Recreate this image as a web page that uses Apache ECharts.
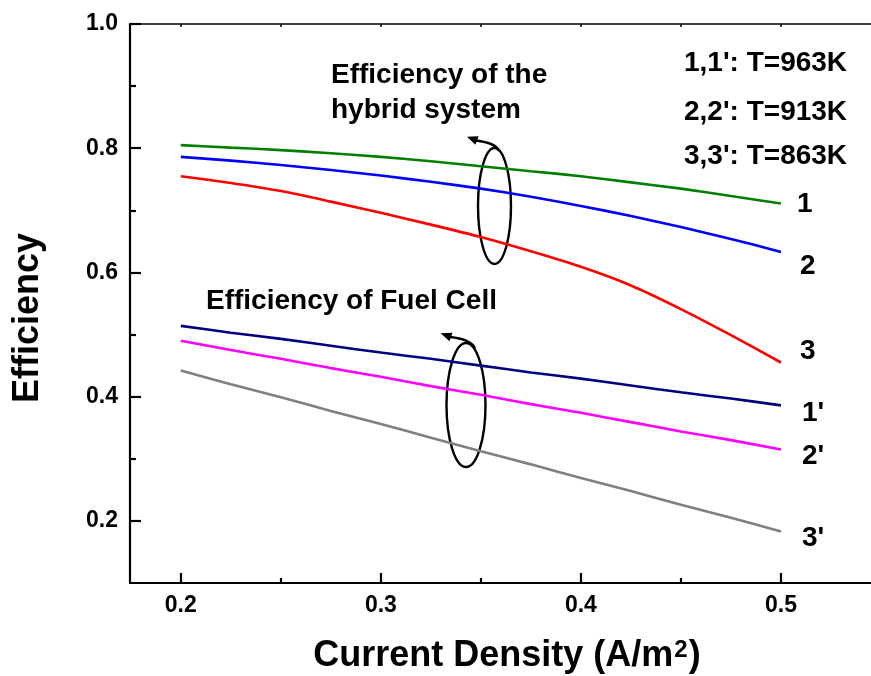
<!DOCTYPE html>
<html><head><meta charset="utf-8">
<script src="https://cdn.jsdelivr.net/npm/echarts@6/dist/echarts.min.js"></script>
<style>html,body{margin:0;padding:0;background:#fff}#c{width:871px;height:676px}</style>
</head><body><div id="c"></div>
<script>
// ---- data ----
const currentDensity = [0.200,0.225,0.250,0.275,0.300,0.325,0.350,0.375,0.400,0.425,0.450,0.475,0.500];
const hybrid963 = [0.805,0.801,0.797,0.792,0.786,0.779,0.771,0.763,0.755,0.745,0.735,0.723,0.711];
const hybrid913 = [0.786,0.780,0.773,0.765,0.756,0.746,0.735,0.722,0.707,0.691,0.673,0.654,0.633];
const hybrid863 = [0.755,0.744,0.731,0.714,0.696,0.677,0.657,0.634,0.609,0.579,0.541,0.499,0.455];
const fuel963   = [0.514,0.503,0.493,0.482,0.471,0.461,0.450,0.439,0.429,0.418,0.407,0.397,0.386];
const fuel913   = [0.490,0.475,0.461,0.446,0.432,0.417,0.403,0.388,0.374,0.359,0.344,0.330,0.315];
const fuel863   = [0.442,0.420,0.399,0.377,0.356,0.334,0.312,0.291,0.269,0.248,0.226,0.205,0.183];
const xTickValues = [0.2,0.3,0.4,0.5];
const xMinorValues = [0.25,0.35,0.45];
const xTopValues = [0.2,0.25,0.3,0.35,0.4,0.45,0.5];
const yTickValues = [0.2,0.4,0.6,0.8,1.0];
const yMinorValues = [0.3,0.5,0.7,0.9];
const curveLabels = ['1','2','3',"1'","2'","3'"];
const legendLines = ["1,1': T=963K","2,2': T=913K","3,3': T=863K"];

const FONT = "'Liberation Sans', Arial, Helvetica, sans-serif";
const X_MIN = 0.1746, X_MAX = 0.545, Y_MIN = 0.1, Y_MAX = 1.0;

function pts(arr){ return currentDensity.map((x,i)=>[x,arr[i]]); }
function line(name, arr, color){
  return {name, type:'line', xAxisIndex:0, yAxisIndex:0, data:pts(arr), showSymbol:false, smooth:0.25,
    lineStyle:{color, width:2.6}, itemStyle:{color}, silent:true};
}
function txt(text, x, y, align, size){
  return {type:'text', x, y, silent:true, style:{text, fill:'#000', fontSize:size||28, fontWeight:'bold', fontFamily:FONT,
    align:align||'left', textAlign:align||'left', verticalAlign:'middle', textVerticalAlign:'middle'}};
}
function arrowHead(tip, base){
  const dx = tip[0]-base[0], dy = tip[1]-base[1], L = Math.hypot(dx,dy);
  const px = -dy/L*4.5, py = dx/L*4.5;
  return {type:'polygon', silent:true, shape:{points:[tip,[base[0]+px,base[1]+py],[base[0]-px,base[1]-py]]}, style:{fill:'#000'}};
}

const chart = echarts.init(document.getElementById('c'), null, {renderer:'canvas'});
const axisBase = {type:'value', min:X_MIN, max:X_MAX, splitLine:{show:false}};
const yBase = {type:'value', min:Y_MIN, max:Y_MAX, splitLine:{show:false}};
const option = {
  animation:false,
  backgroundColor:'#fff',
  grid:{left:130, top:24, width:743, height:559, containLabel:false},
  xAxis:[
    Object.assign({}, axisBase, {position:'bottom',
      axisLine:{show:true, onZero:false, lineStyle:{color:'#000', width:2.2}},
      axisTick:{show:true, inside:true, length:10, customValues:xTickValues, lineStyle:{color:'#000', width:2.2}},
      axisLabel:{show:true, customValues:xTickValues, formatter:v=>v.toFixed(1), color:'#000', fontSize:23, fontWeight:'bold', fontFamily:FONT, margin:11}}),
    Object.assign({}, axisBase, {position:'bottom',
      axisLine:{show:false, onZero:false},
      axisTick:{show:true, inside:true, length:5, customValues:xMinorValues, lineStyle:{color:'#000', width:2.2}},
      axisLabel:{show:false}}),
    Object.assign({}, axisBase, {position:'top',
      axisLine:{show:true, onZero:false, lineStyle:{color:'#000', width:1.5}},
      axisTick:{show:true, inside:true, length:3, customValues:xTopValues, lineStyle:{color:'#000', width:1.5}},
      axisLabel:{show:false}})
  ],
  yAxis:[
    Object.assign({}, yBase, {position:'left',
      axisLine:{show:true, onZero:false, lineStyle:{color:'#000', width:2.2}},
      axisTick:{show:true, inside:true, length:11, customValues:yTickValues, lineStyle:{color:'#000', width:2.2}},
      axisLabel:{show:true, customValues:yTickValues, formatter:v=>v.toFixed(1), color:'#000', fontSize:23, fontWeight:'bold', fontFamily:FONT, margin:12}}),
    Object.assign({}, yBase, {position:'left',
      axisLine:{show:false, onZero:false},
      axisTick:{show:true, inside:true, length:6, customValues:yMinorValues, lineStyle:{color:'#000', width:2.2}},
      axisLabel:{show:false}})
  ],
  series:[
    line('1', hybrid963, '#008000'),
    line('2', hybrid913, '#0000ff'),
    line('3', hybrid863, '#ff0000'),
    line("1'", fuel963, '#000080'),
    line("2'", fuel913, '#ff00ff'),
    line("3'", fuel863, '#808080')
  ],
  graphic:[
    {type:'text', x:28, y:318, rotation:Math.PI/2, silent:true,
      style:{text:'Efficiency', fill:'#000', fontSize:36, fontWeight:'bold', fontFamily:FONT, align:'center', textAlign:'center', verticalAlign:'middle', textVerticalAlign:'middle'}},
    {type:'text', x:507, y:656, silent:true,
      style:{text:'{a|Current Density (A/m}{s|2}{a|)}', fill:'#000', align:'center', textAlign:'center', verticalAlign:'middle', textVerticalAlign:'middle',
        rich:{a:{fontSize:36, fontWeight:'bold', fontFamily:FONT, fill:'#000', color:'#000'},
              s:{fontSize:24, fontWeight:'bold', fontFamily:FONT, fill:'#000', color:'#000', verticalAlign:'top', padding:[0,1,0,1]}}}},
    txt('Efficiency of the', 331, 75.5),
    txt('hybrid system', 331, 110),
    txt('Efficiency of Fuel Cell', 206, 301),
    txt(legendLines[0], 684, 63.5),
    txt(legendLines[1], 684, 112),
    txt(legendLines[2], 684, 156.5),
    txt(curveLabels[0], 797, 204),
    txt(curveLabels[1], 800, 266),
    txt(curveLabels[2], 800, 351),
    txt(curveLabels[3], 802, 413),
    txt(curveLabels[4], 802, 456),
    txt(curveLabels[5], 802, 538.5),
    {type:'ellipse', silent:true, shape:{cx:494.5, cy:206, rx:16.5, ry:58}, style:{fill:'none', stroke:'#000', lineWidth:2.4}},
    {type:'ellipse', silent:true, shape:{cx:466, cy:405, rx:19.5, ry:62}, style:{fill:'none', stroke:'#000', lineWidth:2.4}},
    {type:'bezierCurve', silent:true, shape:{x1:499, y1:151, x2:476, y2:140.5, cpx1:496, cpy1:143}, style:{fill:'none', stroke:'#000', lineWidth:2.4}},
    arrowHead([467,136.7],[477,140.5]),
    {type:'bezierCurve', silent:true, shape:{x1:475, y1:348, x2:450, y2:337, cpx1:470, cpy1:339}, style:{fill:'none', stroke:'#000', lineWidth:2.4}},
    arrowHead([440.7,333.3],[451,337])
  ]
};
chart.setOption(option);
</script>
</body></html>
